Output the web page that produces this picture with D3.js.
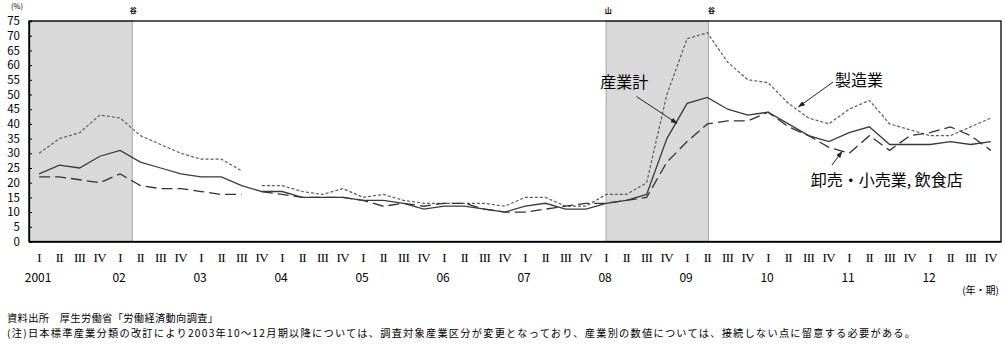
<!DOCTYPE html>
<html>
<head>
<meta charset="utf-8">
<script src="https://cdn.jsdelivr.net/npm/d3@7"></script>
<style>
  html, body { margin: 0; padding: 0; background: #fff; }
  svg { display: block; }
  text { font-family: "Noto Sans CJK JP", "Noto Sans", sans-serif; fill: #000; }
</style>
</head>
<body>
<svg id="chart" width="1005" height="345"></svg>
<script>
// ---------------- data ----------------
const years = ["2001","02","03","04","05","06","07","08","09","10","11","12"];
const quarterLabels = ["I","II","III","IV"];
const yTicks = [0,5,10,15,20,25,30,35,40,45,50,55,60,65,70,75];

// 産業計 (all industries)
const totalValues = [23,26,25,29,31,27,25,23,22,22,19,17,
                     17,15,15,15,14,14,13,11,12,12,11,10,
                     12,13,11,11,13,14,16,35,47,49,45,43,
                     44,40,36,34,37,39,33,33,33,34,33,34];
// 製造業 (manufacturing)
const mfgValues = [30,35,37,43,42,36,33,30,28,28,24,19,
                   19,17,16,18,15,16,14,13,13,13,13,12,
                   15,15,12,12,16,16,20,50,69,71,61,55,
                   54,47,42,40,45,48,40,38,36,36,39,42];
// 卸売・小売業, 飲食店 (wholesale/retail, restaurants)
const retailValues = [22,22,21,20,23,19,18,18,17,16,16,17,
                      16,15,15,15,14,12,13,12,13,13,11,10,
                      10,11,12,13,13,14,15,27,34,40,41,41,
                      44,39,36,32,30,36,31,36,37,39,36,31];
// series break (industry classification revised from 2003 Q4)
const breakAfter = 10;

// recession shading, in quarter-index units
const recessions = [[-0.5, 4.6],[28, 33.05]];
const cycleMarks = [{pos: 4.65, label: "谷"},{pos: 28.1, label: "山"},{pos: 33.2, label: "谷"}];

// annotations (positions in data units: quarter index, %)
const annotations = [
  {text: "産業計", tx: 28.9, ty: 54.2, anchor: "middle", from: [29.5, 49.3], to: [31.5, 40.2]},
  {text: "製造業", tx: 39.3, ty: 54.8, anchor: "start", from: [39.2, 54.2], to: [37.5, 45.8]},
  {text: "卸売・小売業, 飲食店", tx: 38.1, ty: 20.8, anchor: "start", from: [39.15, 26.0], to: [39.65, 30.6]}
];

const notes = [
  "資料出所　厚生労働省「労働経済動向調査」",
  "(注)日本標準産業分類の改訂により2003年10～12月期以降については、調査対象産業区分が変更となっており、産業別の数値については、接続しない点に留意する必要がある。"
];

// ---------------- layout ----------------
const svg = d3.select("#chart");
const L = 29, R = 1001, T = 21, B = 241.5;
const n = years.length * 4;
const idx = d3.range(n);

const xBand = d3.scaleBand().domain(idx).range([L, R]).paddingInner(0).paddingOuter(0);
const xLin = d3.scaleLinear().domain([-0.5, n - 0.5]).range([L, R]);
const y = d3.scaleLinear().domain([0, 75]).range([B, T]);
const cx = i => xBand(i) + xBand.bandwidth() / 2;

// shading
svg.append("g").selectAll("rect").data(recessions).join("rect")
  .attr("x", d => xLin(d[0])).attr("y", T)
  .attr("width", d => xLin(d[1]) - xLin(d[0])).attr("height", B - T)
  .attr("fill", "#d9d9d9").attr("stroke", "#a6a6a6").attr("stroke-width", 1);

// cycle marks
svg.append("g").selectAll("text").data(cycleMarks).join("text")
  .attr("x", d => xLin(d.pos)).attr("y", 13)
  .attr("text-anchor", "middle").attr("font-size", 7).attr("font-weight", "bold")
  .text(d => d.label);

// frame
svg.append("rect").attr("x", L).attr("y", T).attr("width", R - L).attr("height", B - T)
  .attr("fill", "none").attr("stroke", "#000").attr("stroke-width", 1.3);

// y axis
const yAxis = d3.axisLeft(y).tickValues(yTicks).tickSize(-3).tickPadding(9);
const gy = svg.append("g").attr("transform", `translate(${L},0)`).call(yAxis);
gy.selectAll("text").attr("font-size", 11.5).style("font-family", "'Noto Sans CJK JP', sans-serif");
gy.select(".domain").attr("stroke-width", 1.3);

svg.append("text").attr("x", 17).attr("y", 9).attr("text-anchor", "middle")
  .attr("font-size", 7.5).text("(%)");

// x axis (quarters, roman numerals)
const xAxis = d3.axisBottom(xBand).tickSize(0).tickPadding(11)
  .tickFormat(i => quarterLabels[i % 4]);
const gx = svg.append("g").attr("transform", `translate(0,${B})`).call(xAxis);
gx.selectAll("text").attr("font-size", 13)
  .style("font-family", "'Liberation Serif', 'DejaVu Serif', serif")
  .attr("letter-spacing", -0.6);
gx.select(".domain").attr("stroke-width", 1.3);

// years
svg.append("g").selectAll("text").data(years).join("text")
  .attr("x", (d, k) => cx(k * 4) - 1).attr("y", 282)
  .attr("text-anchor", "middle").attr("font-size", 12)
  .text(d => d);

svg.append("text").attr("x", 999).attr("y", 294).attr("text-anchor", "end")
  .attr("font-size", 10).text("(年・期)");

// lines
const line = d3.line().x(d => cx(d.i)).y(d => y(d.v));
function segs(values, broken) {
  const pts = values.map((v, i) => ({i, v}));
  return broken ? [pts.slice(0, breakAfter + 1), pts.slice(breakAfter + 1)] : [pts];
}
const seriesDefs = [
  {values: mfgValues, broken: true, color: "#5a5a5a", dash: "3,2", width: 1.2},
  {values: retailValues, broken: true, color: "#333", dash: "11,5", width: 1.3},
  {values: totalValues, broken: false, color: "#3a3a3a", dash: null, width: 1.3}
];
seriesDefs.forEach(s => {
  svg.append("g").selectAll("path").data(segs(s.values, s.broken)).join("path")
    .attr("d", line).attr("fill", "none").attr("stroke", s.color)
    .attr("stroke-width", s.width).attr("stroke-dasharray", s.dash);
});

// arrows
svg.append("defs").append("marker").attr("id", "arr")
  .attr("viewBox", "0 0 10 10").attr("refX", 9).attr("refY", 5)
  .attr("markerWidth", 7).attr("markerHeight", 7).attr("orient", "auto")
  .append("path").attr("d", "M0,1.5 L10,5 L0,8.5 Z").attr("fill", "#222");

const ag = svg.append("g");
annotations.forEach(a => {
  ag.append("line")
    .attr("x1", xLin(a.from[0])).attr("y1", y(a.from[1]))
    .attr("x2", xLin(a.to[0])).attr("y2", y(a.to[1]))
    .attr("stroke", "#222").attr("stroke-width", 1).attr("marker-end", "url(#arr)");
  ag.append("text").attr("x", xLin(a.tx)).attr("y", y(a.ty))
    .attr("dy", "0.36em").attr("text-anchor", a.anchor)
    .attr("font-size", 16).text(a.text);
});

// notes
svg.append("text").attr("x", 7).attr("y", 321.5).attr("font-size", 10.2)
  .attr("textLength", 211).attr("lengthAdjust", "spacing").text(notes[0]);
svg.append("text").attr("x", 7).attr("y", 336.5).attr("font-size", 10.2)
  .attr("textLength", 908).attr("lengthAdjust", "spacing").text(notes[1]);
</script>
</body>
</html>
